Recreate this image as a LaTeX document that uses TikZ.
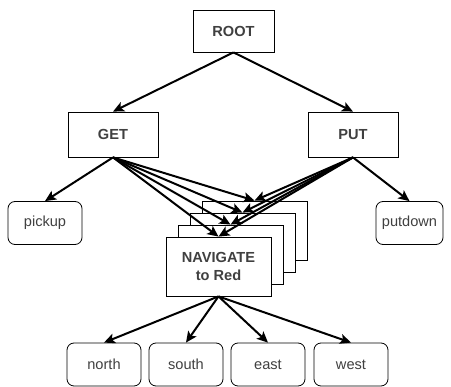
\documentclass[tikz,border=0pt]{standalone}
\usepackage{fontspec}
\setmainfont{Liberation Sans}
\usetikzlibrary{arrows.meta}
\definecolor{labelgray}{HTML}{404040}
\tikzset{
  task/.style={draw, line width=0.8pt, fill=white, text=labelgray, align=center, inner sep=0pt,
    font=\bfseries\fontsize{14.6}{17.5}\selectfont},
  prim/.style={draw, line width=0.8pt, rounded corners=7pt, fill=white, text=labelgray, inner sep=0pt,
    font=\fontsize{14.6}{17.5}\selectfont, minimum width=74pt, minimum height=43pt},
  link/.style={-{Stealth[length=11pt,width=10pt,inset=2.5pt]}, line width=2pt}
}
\begin{document}
\begin{tikzpicture}[x=1pt,y=-1pt]
    \useasboundingbox (0,0) rectangle (451,387);
    \node(root)[task, minimum width=81pt, minimum height=42pt] at (233.5,31) {ROOT};
    \node(get)[task, minimum width=90pt, minimum height=45pt] at (113,134.5) {GET};
    \node(put)[task, minimum width=90pt, minimum height=45pt] at (353,134.5) {PUT};
    \node(pickup)[prim] at (45,223) {pickup};
    \node(putdown)[prim, minimum width=67pt] at (409.5,223) {putdown};
    % stacked copies of the navigate task
    \foreach \k/\d in {4/36, 3/24, 2/12}
        \node(nav\k)[task, minimum width=105pt, minimum height=59pt] at (218.5+\d,266.5-\d) {};
    \node(nav1)[task, minimum width=105pt, minimum height=59pt] at (218.5,266.5) {NAVIGATE\\to Red};
    \node(mvnorth)[prim] at (104,364.5) {north};
    \node(mvsouth)[prim] at (186,364.5) {south};
    \node(mveast)[prim] at (268,364.5) {east};
    \node(mvwest)[prim] at (351,364.5) {west};
    \draw[link] (root.south) -- (get.north);
    \draw[link] (root.south) -- (put.north);
    \draw[link] (get.south) -- (pickup.north);
    \draw[link] (put.south) -- (putdown.north);
    \foreach \k in {1,...,4} {
        \draw[link] (get.south) -- (nav\k.north);
        \draw[link] (put.south) -- (nav\k.north);
    }
    \foreach \m in {north, south, east, west}
        \draw[link] (nav1.south) -- (mv\m.north);
\end{tikzpicture}
\end{document}
